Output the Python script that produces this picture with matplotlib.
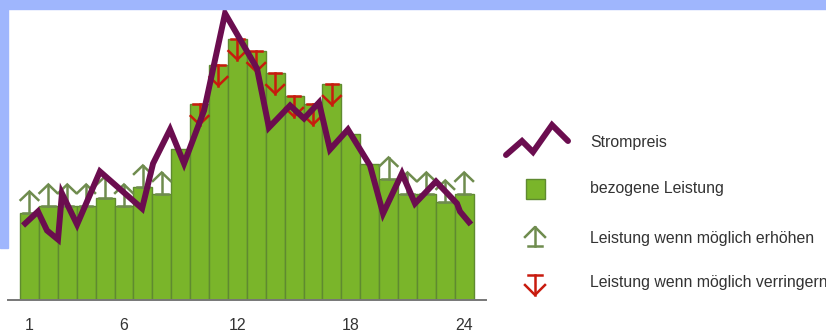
import numpy as np
import matplotlib
matplotlib.use("Agg")
import matplotlib.pyplot as plt
from matplotlib.patches import Rectangle

plt.rcParams['font.family'] = ['Liberation Sans', 'DejaVu Sans']

# hours of the day and power drawn per hour (arbitrary units)
hours = np.arange(1, 25)
leistung = [8.7, 9.4, 9.4, 9.4, 10.2, 9.4, 11.3, 10.6, 15.1, 19.6, 23.5, 26.1,
            24.9, 22.7, 20.4, 19.6, 21.6, 16.6, 13.6, 12.1, 10.6, 10.6, 9.8, 10.6]
# +1 = raise if possible, -1 = lower if possible, 0 = nothing
aktion = [1, 1, 1, 1, 1, 1, 1, 1, 0, -1, -1, -1,
          -1, -1, -1, -1, -1, 0, 0, 1, 1, 1, 1, 1]

# electricity price curve (x in hour units, y in same scale)
preis_x = [0.66, 1.45, 1.93, 2.51, 2.72, 3.52, 4.73, 6.96, 7.54, 8.44, 9.18, 10.24,
           11.35, 13.04, 13.67, 14.79, 15.53, 16.32, 16.90, 17.85, 19.02, 19.71,
           20.71, 21.40, 22.51, 23.62, 23.78, 24.36]
preis_y = [7.4, 8.8, 6.9, 6.0, 10.6, 7.5, 12.8, 9.1, 13.6, 17.0, 13.6, 18.9,
           28.6, 23.1, 17.2, 19.4, 18.1, 19.7, 15.0, 17.0, 13.4, 8.6,
           12.6, 9.6, 11.8, 9.6, 8.8, 7.5]

tick_pos = [1, 6, 12, 18, 24]

bar_col = '#7ab52a'
bar_edge = '#5f8a30'
line_col = '#6b0d4f'
up_col = '#6f8c4e'
down_col = '#c81b0e'
band_col = '#9fb6fd'
text_col = '#333333'

W, H = 826, 332
fig = plt.figure(figsize=(W / 100, H / 100), dpi=100)
fig.patch.set_facecolor('white')

# lavender frame pieces
fig.patches.append(Rectangle((0, 1 - 9 / H), 1, 9 / H, transform=fig.transFigure,
                             color=band_col, zorder=0))
fig.patches.append(Rectangle((0, 1 - 248 / H), 8 / W, 248 / H, transform=fig.transFigure,
                             color=band_col, zorder=0))

ax = fig.add_axes([8 / W, 32.5 / H, 478 / W, 290 / H])
ax.set_facecolor('none')
ax.bar(hours, leistung, width=1.0, color=bar_col, edgecolor=bar_edge, linewidth=1.0, zorder=2)

# arrows on the bars
alen, hw, hh, bw = 2.1, 0.47, 0.85, 0.33
for h, v, a in zip(hours, leistung, aktion):
    if a == 0:
        continue
    c = up_col if a > 0 else down_col
    tip = v + a * alen
    ax.plot([h, h], [v, tip], color=c, lw=1.8, zorder=3)
    ax.plot([h - bw, h + bw], [v, v], color=c, lw=1.8, zorder=3)
    ax.plot([h - hw, h, h + hw], [tip - a * hh, tip, tip - a * hh], color=c, lw=1.8,
            zorder=3, solid_joinstyle='miter')

ax.plot(preis_x, preis_y, color=line_col, lw=4.3, solid_joinstyle='miter',
        solid_capstyle='butt', zorder=4, clip_on=False)

ax.set_xlim(-0.135, 25.156)
ax.set_ylim(0, 29)
for s in ['top', 'right', 'left']:
    ax.spines[s].set_visible(False)
ax.spines['bottom'].set_color('#777777')
ax.spines['bottom'].set_linewidth(1.4)
ax.set_yticks([])
ax.set_xticks(tick_pos)
ax.set_xticklabels([str(t) for t in tick_pos])
ax.tick_params(axis='x', length=0, pad=13, labelsize=11.4, labelcolor=text_col)

# legend drawn by hand on the right
lg = fig.add_axes([490 / W, 0, 336 / W, 1])
lg.set_xlim(490, 826)
lg.set_ylim(332, 0)
lg.axis('off')
lg.plot([506, 522, 533, 552, 568], [155, 141, 152, 125, 141], color=line_col, lw=4.3,
        solid_capstyle='round', solid_joinstyle='miter')
lg.add_patch(Rectangle((526, 179), 19, 20, facecolor=bar_col, edgecolor=bar_edge, lw=1.0))
# up arrow
lg.plot([535, 535], [246, 227], color=up_col, lw=1.8)
lg.plot([528, 542], [246, 246], color=up_col, lw=1.8)
lg.plot([525, 535, 545], [237, 227, 237], color=up_col, lw=1.8)
# down arrow
lg.plot([535, 535], [275, 295], color=down_col, lw=1.8)
lg.plot([528, 542], [275, 275], color=down_col, lw=1.8)
lg.plot([525, 535, 545], [285, 295, 285], color=down_col, lw=1.8)

labels = ['Strompreis', 'bezogene Leistung', 'Leistung wenn möglich erhöhen',
          'Leistung wenn möglich verringern']
for y, t in zip([143, 189, 238, 283], labels):
    lg.text(590, y, t, fontsize=11.4, color=text_col, va='center', ha='left', clip_on=False)

fig.savefig('out.png', dpi=100, facecolor=fig.get_facecolor())
